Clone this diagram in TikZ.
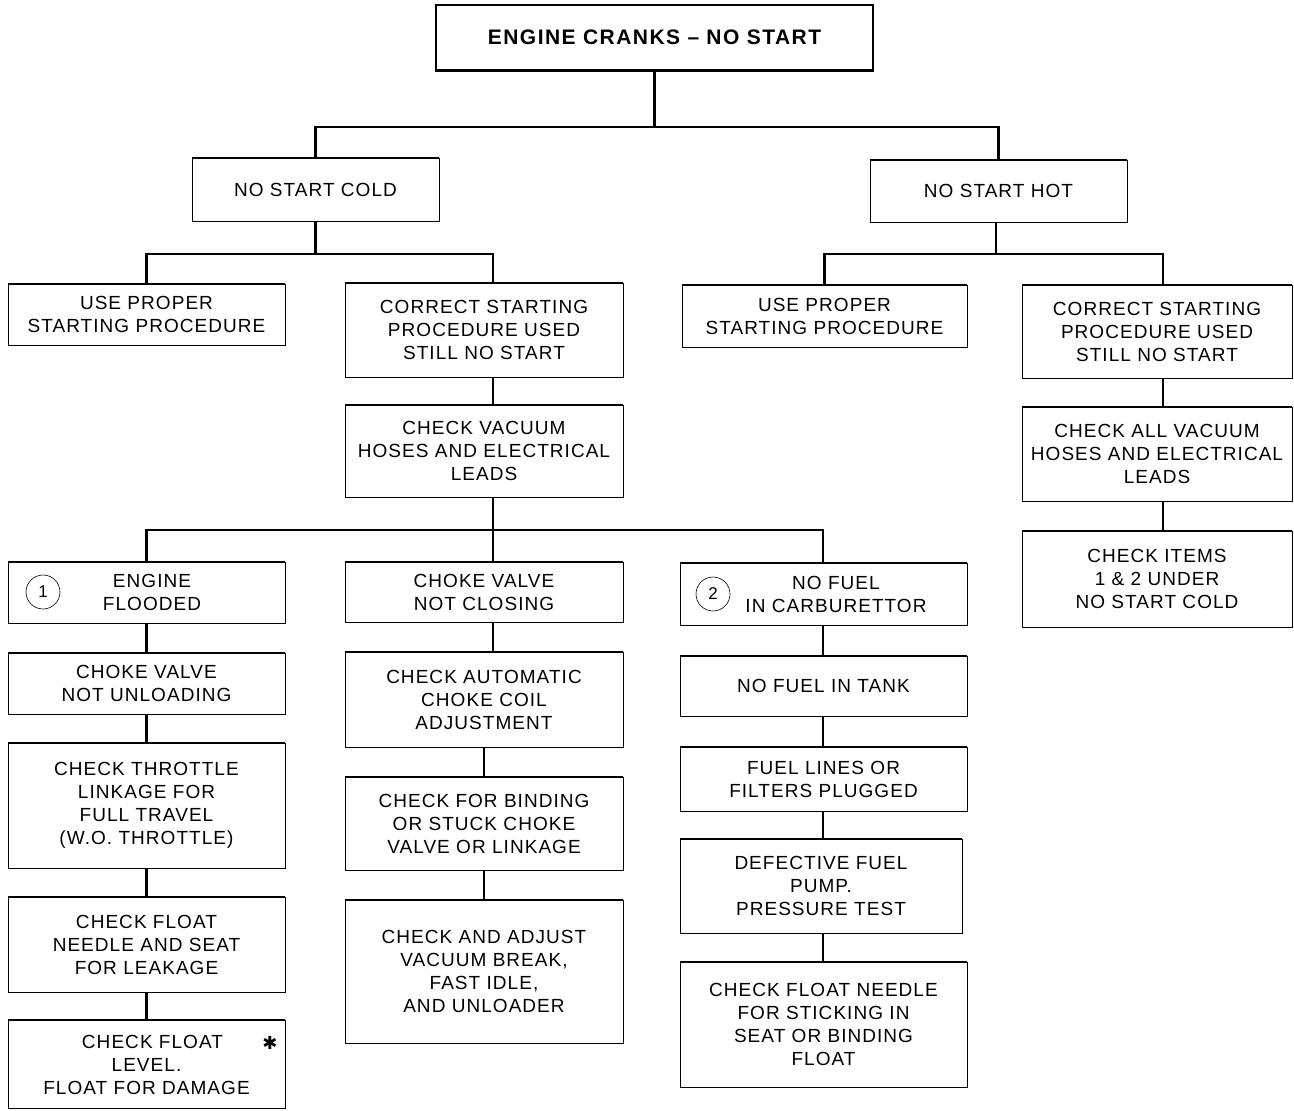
\documentclass[tikz,border=0pt]{standalone}
\usepackage{fontspec}
\setmainfont{Liberation Sans}[LetterSpace=5.5]
\newfontfamily\titlefont{Liberation Sans}[LetterSpace=7]
\newfontfamily\symfont{DejaVu Sans}
\begin{document}
\begin{tikzpicture}[x=1pt,y=-1pt,
  box/.style={draw, line width=0.8pt, inner sep=0pt, align=center, font=\fontsize{19}{23}\selectfont,
    append after command={[line width=1.8pt] (\tikzlastnode.north west) edge (\tikzlastnode.north east)
      (\tikzlastnode.south west) edge (\tikzlastnode.south east)}},
  txt/.style={inner sep=0pt, align=center, font=\fontsize{19}{23}\selectfont},
  conn/.style={line width=2.6pt},
  num/.style={draw, circle, line width=0.6pt, minimum size=34pt, inner sep=0pt, font=\fontsize{17}{17}\selectfont}]
\useasboundingbox (0,0) rectangle (1294,1111);
% top
\node[box, line width=1.6pt, minimum width=437pt, minimum height=65pt, font=\titlefont\bfseries\fontsize{21}{25}\selectfont] (top) at (654.5,37.5) {ENGINE CRANKS \textendash\ NO START};
% level 1
\node[box, minimum width=247pt, minimum height=63pt] (cold) at (315.5,189.5) {NO START COLD};
\node[box, minimum width=257pt, minimum height=62pt] (hot) at (998.5,191) {NO START HOT};
% cold branch
\node[box, minimum width=277pt, minimum height=61pt] (useC) at (146.5,314.5) {USE PROPER\\STARTING PROCEDURE};
\node[box, minimum width=278pt, minimum height=94pt] (corrC) at (484,330) {CORRECT STARTING\\PROCEDURE USED\\STILL NO START};
\node[box, minimum width=278pt, minimum height=92pt] (chkV) at (484,451) {CHECK VACUUM\\HOSES AND ELECTRICAL\\LEADS};
% hot branch
\node[box, minimum width=285pt, minimum height=62pt] (useH) at (824.5,316) {USE PROPER\\STARTING PROCEDURE};
\node[box, minimum width=270pt, minimum height=93pt] (corrH) at (1157,331.5) {CORRECT STARTING\\PROCEDURE USED\\STILL NO START};
\node[box, minimum width=270pt, minimum height=94pt] (allV) at (1157,454) {CHECK ALL VACUUM\\HOSES AND ELECTRICAL\\LEADS};
\node[box, minimum width=270pt, minimum height=96pt] (items) at (1157,579) {CHECK ITEMS\\1 \& 2 UNDER\\NO START COLD};
% three columns
\node[box, minimum width=277pt, minimum height=61pt] (flood) at (146.5,592.5) {};
\node[txt] (floodT) at (152,592.5) {ENGINE\\FLOODED};
\node[num] (n1) at (43,592) {1};
\node[box, minimum width=278pt, minimum height=60pt] (choke) at (484,592) {CHOKE VALVE\\NOT CLOSING};
\node[box, minimum width=287pt, minimum height=62pt] (fuel) at (823.5,594) {};
\node[txt] (fuelT) at (836,594) {NO FUEL\\IN CARBURETTOR};
\node[num] (n2) at (713,594) {2};
% column 1
\node[box, minimum width=277pt, minimum height=61pt] (unload) at (146.5,683.5) {CHOKE VALVE\\NOT UNLOADING};
\node[box, minimum width=277pt, minimum height=125pt] (throttle) at (146.5,805.5) {CHECK THROTTLE\\LINKAGE FOR\\FULL TRAVEL\\(W.O. THROTTLE)};
\node[box, minimum width=277pt, minimum height=95pt] (needle) at (146.5,944.5) {CHECK FLOAT\\NEEDLE AND SEAT\\FOR LEAKAGE};
\node[box, minimum width=277pt, minimum height=88pt] (level) at (146.5,1064) {};
\node[txt] (levelT) at (146.5,1065) {\hspace*{12pt}CHECK FLOAT\\LEVEL.\\FLOAT FOR DAMAGE};
\node[inner sep=0pt, font=\symfont\fontsize{18}{18}\selectfont] (star) at (270,1043) {✱};
% column 2
\node[box, minimum width=278pt, minimum height=95pt] (coil) at (484,699.5) {CHECK AUTOMATIC\\CHOKE COIL\\ADJUSTMENT};
\node[box, minimum width=278pt, minimum height=93pt] (binding) at (484,823.5) {CHECK FOR BINDING\\OR STUCK CHOKE\\VALVE OR LINKAGE};
\node[box, minimum width=278pt, minimum height=143pt] (adjust) at (484,971.5) {CHECK AND ADJUST\\VACUUM BREAK,\\FAST IDLE,\\AND UNLOADER};
% column 3
\node[box, minimum width=287pt, minimum height=60pt] (tank) at (823.5,686) {NO FUEL IN TANK};
\node[box, minimum width=287pt, minimum height=64pt] (lines) at (823.5,779) {FUEL LINES OR\\FILTERS PLUGGED};
\node[box, minimum width=282pt, minimum height=94pt] (pump) at (821,886) {DEFECTIVE FUEL\\PUMP.\\PRESSURE TEST};
\node[box, minimum width=287pt, minimum height=125pt] (float) at (823.5,1024.5) {CHECK FLOAT NEEDLE\\FOR STICKING IN\\SEAT OR BINDING\\FLOAT};
% junctions and connector lines
\coordinate (j1) at (654.5,127);
\coordinate (j2) at (315.5,254);
\coordinate (c2) at (493,254);
\coordinate (j3) at (493,530);
\coordinate (j4) at (996,254);
\coordinate (c4) at (1163,254);
\coordinate (c3) at (823,530);
% connectors
\draw[conn] (top.south) -- (j1);
\draw[conn] (cold.north) |- (j1) -| (hot.north);
\draw[conn] (cold.south) -- (j2);
\draw[conn] (useC.north) |- (j2) -- (c2) -- (c2 |- corrC.north);
\draw[conn] (corrC.south -| c2) -- (chkV.north -| c2);
\draw[conn] (chkV.south -| j3) -- (j3);
\draw[conn] (flood.north) |- (j3) -- (c3) -- (c3 |- fuel.north);
\draw[conn] (j3) -- (j3 |- choke.north);
\draw[conn] (hot.south -| j4) -- (j4);
\draw[conn] (useH.north) |- (j4) -- (c4) -- (c4 |- corrH.north);
\draw[conn] (corrH.south -| c4) -- (allV.north -| c4);
\draw[conn] (allV.south -| c4) -- (items.north -| c4);
\draw[conn] (flood.south) -- (unload.north);
\draw[conn] (unload.south) -- (throttle.north);
\draw[conn] (throttle.south) -- (needle.north);
\draw[conn] (needle.south) -- (level.north);
\draw[conn] (choke.south -| j3) -- (coil.north -| j3);
\draw[conn] (coil.south) -- (binding.north);
\draw[conn] (binding.south) -- (adjust.north);
\draw[conn] (fuel.south -| c3) -- (tank.north -| c3);
\draw[conn] (tank.south -| c3) -- (lines.north -| c3);
\draw[conn] (lines.south -| c3) -- (pump.north -| c3);
\draw[conn] (pump.south -| c3) -- (float.north -| c3);
\end{tikzpicture}
\end{document}
